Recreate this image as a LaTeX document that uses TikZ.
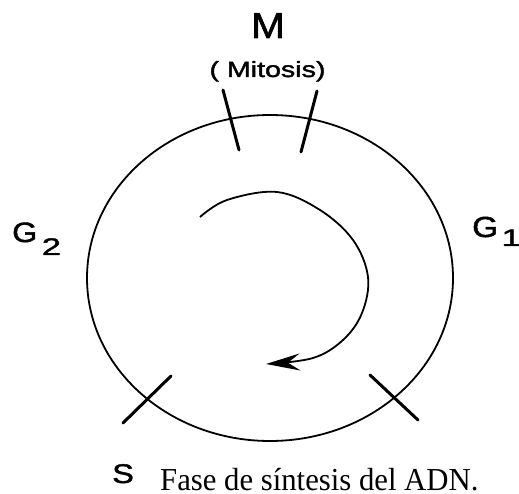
\documentclass[tikz,border=0pt]{standalone}
\usepackage{fontspec}
\setmainfont{Liberation Serif}
\newfontfamily\labfont[FakeBold=1.5]{Liberation Sans}
\usetikzlibrary{arrows.meta}
\begin{document}
\begin{tikzpicture}[x=1pt,y=-1pt,
  lab/.style={inner sep=0pt, font=\labfont, anchor=base west},
  tickline/.style={line width=3pt, line cap=round},
  cycleline/.style={line width=1.8pt},
  arrowline/.style={line width=1.8pt, -{Stealth[length=34pt,width=17pt,inset=12pt]}}
]
\useasboundingbox (0,0) rectangle (519,494);
% cell cycle ring
\draw[cycleline] (270,278) ellipse [x radius=183, y radius=163];
% phase boundary ticks
\coordinate (m1a) at (223,90);  \coordinate (m1b) at (239,150);
\coordinate (m2a) at (317,91);  \coordinate (m2b) at (301,152);
\coordinate (s1a) at (123,423); \coordinate (s1b) at (171,376);
\coordinate (s2a) at (370,375); \coordinate (s2b) at (418,420);
\draw[tickline] (m1a) -- (m1b);
\draw[tickline] (m2a) -- (m2b);
\draw[tickline] (s1a) -- (s1b);
\draw[tickline] (s2a) -- (s2b);
% inner arrow
\draw[arrowline] plot[smooth, tension=0.6] coordinates {(200,217) (227,200) (277,192) (320,210) (353,240) (368,277) (362,313) (343,340) (313,358) (266,364)};
% labels
\node[lab, xscale=1.12, font=\labfont\fontsize{36}{36}\selectfont] (m) at (251,38) {M};
\node[lab, anchor=base, xscale=1.3, font=\labfont\fontsize{22}{22}\selectfont] (mit) at (267.5,77) {( Mitosis)};
\node[lab, xscale=1.15, font=\labfont\fontsize{28}{28}\selectfont] (g2) at (12,242) {G\kern4pt\raisebox{-13pt}{\fontsize{24}{24}\selectfont\scalebox{1.25}[1]{2}}};
\node[lab, xscale=1.15, font=\labfont\fontsize{29}{29}\selectfont] (g1) at (472,237) {G\kern3pt\raisebox{-9pt}{\fontsize{24}{24}\selectfont\scalebox{1.25}[1]{1}}};
\node[lab, xscale=1.2, font=\labfont\fontsize{27}{27}\selectfont] (s) at (112,483) {S};
\node[anchor=base west, inner sep=0pt, xscale=0.96, font=\fontsize{32}{32}\selectfont] (cap) at (160,490) {Fase de síntesis del ADN.};
\end{tikzpicture}
\end{document}
